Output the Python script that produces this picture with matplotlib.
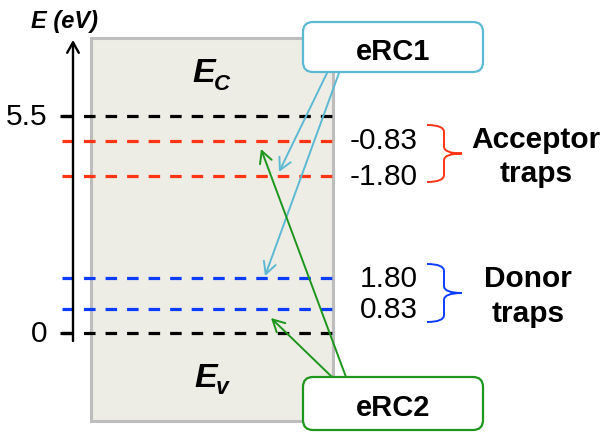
import matplotlib
matplotlib.use('Agg')
import matplotlib.pyplot as plt
from matplotlib.patches import FancyBboxPatch, Rectangle, PathPatch
from matplotlib.path import Path

plt.rcParams['font.family'] = ['Liberation Sans', 'DejaVu Sans']

# ---- data (energies in eV, schematic positions) ----
band_edges = [5.5, 0.0]
band_edge_labels = ['5.5', '0']
acceptor_levels = [4.86, 3.96]
acceptor_labels = ['-0.83', '-1.80']
donor_levels = [1.375, 0.596]
donor_labels = ['1.80', '0.83']

# ---- layout helpers (pixel -> energy) ----
W, H = 606, 434
Y0, S = 332.5, 39.42
def Y(py):
    return (Y0 - py) / S

fig = plt.figure(figsize=(6.06, 4.34), dpi=100)
ax = fig.add_axes([0, 0, 1, 1])
ax.set_xlim(0, W)
ax.set_ylim(Y(H), Y(0))
ax.axis('off')

RED = '#ff3414'
BLUE = '#0c3cff'
CYAN = '#5bb9d4'
GREEN = '#1c961c'

# band-gap box
ax.add_patch(Rectangle((91, Y(421)), 333 - 91, Y(38) - Y(421),
                       facecolor='#eeede5', edgecolor='#bdbdbd', lw=2.2, zorder=1))

# energy axis with arrow
ax.annotate('', xy=(73, Y(40)), xytext=(73, Y(341)),
            arrowprops=dict(arrowstyle='->,head_length=0.75,head_width=0.42',
                            lw=1.7, color='black', shrinkA=0, shrinkB=0,
                            mutation_scale=10), zorder=3)
ax.text(31, Y(28), 'E (eV)', fontsize=17, fontweight='bold', fontstyle='italic',
        ha='left', va='baseline')

lw = 2.3
dash = (0, (8.3 / lw, 7.2 / lw))
x0, x1 = 62, 341
for e, lab in zip(band_edges, band_edge_labels):
    ax.plot([60, 73], [e, e], color='black', lw=lw, zorder=3, solid_capstyle='butt')
    ax.plot([x0, x1], [e, e], color='black', lw=lw, ls=dash, zorder=2)
    ax.text(47, e - 9 / S, lab, fontsize=21.5, ha='right', va='baseline')

for e, lab in zip(acceptor_levels, acceptor_labels):
    ax.plot([x0, x1], [e, e], color=RED, lw=lw, ls=dash, zorder=2)
    ax.text(418, e - 8.5 / S, lab, fontsize=21.5, ha='right', va='baseline')

for e, lab in zip(donor_levels, donor_labels):
    ax.plot([x0, x1], [e, e], color=BLUE, lw=lw, ls=dash, zorder=2)
    ax.text(418, e - 8.5 / S, lab, fontsize=21.5, ha='right', va='baseline')

# E_C and E_v
ax.text(192, Y(82), 'E', fontsize=24.5, fontweight='bold', fontstyle='italic',
        ha='left', va='baseline', zorder=4)
ax.text(214, Y(90), 'C', fontsize=16, fontweight='bold', fontstyle='italic',
        ha='left', va='baseline', zorder=4)
ax.text(194, Y(387), 'E', fontsize=24.5, fontweight='bold', fontstyle='italic',
        ha='left', va='baseline', zorder=4)
ax.text(216, Y(394), 'v', fontsize=16.5, fontweight='bold', fontstyle='italic',
        ha='left', va='baseline', zorder=4)

# braces
def brace(top, bot, color):
    mid = (top + bot) / 2
    xl, xm, xt, r = 427, 444, 462, 7
    verts = [(xl, top), (xm, top), (xm, top + r),
             (xm, mid - r), (xm, mid), (xt, mid),
             (xm, mid), (xm, mid + r),
             (xm, bot - r), (xm, bot), (xl, bot)]
    codes = [Path.MOVETO, Path.CURVE3, Path.CURVE3,
             Path.LINETO, Path.CURVE3, Path.CURVE3,
             Path.CURVE3, Path.CURVE3,
             Path.LINETO, Path.CURVE3, Path.CURVE3]
    verts = [(x, Y(y)) for x, y in verts]
    ax.add_patch(PathPatch(Path(verts, codes), fill=False, edgecolor=color, lw=1.4))

brace(125, 182, RED)
brace(264, 322, BLUE)

ax.text(536, Y(148), 'Acceptor', fontsize=21.5, fontweight='bold', ha='center', va='baseline')
ax.text(536, Y(182), 'traps', fontsize=21.5, fontweight='bold', ha='center', va='baseline')
ax.text(528, Y(287), 'Donor', fontsize=21.5, fontweight='bold', ha='center', va='baseline')
ax.text(528, Y(322), 'traps', fontsize=21.5, fontweight='bold', ha='center', va='baseline')

# callout boxes
def callout(xa, xb, ya, yb, color, label, base):
    p = FancyBboxPatch((xa, Y(yb)), xb - xa, Y(ya) - Y(yb),
                       boxstyle='round,pad=0,rounding_size=10',
                       mutation_aspect=1 / S, facecolor='white', edgecolor=color,
                       lw=1.6, zorder=6)
    ax.add_patch(p)
    ax.text((xa + xb) / 2, Y(base), label, fontsize=21, fontweight='bold',
            ha='center', va='baseline', zorder=7)

callout(303, 483, 22, 72, CYAN, 'eRC1', 60)
callout(303, 483, 377, 430, GREEN, 'eRC2', 415.5)

def arrow(start, tip, color):
    ax.annotate('', xy=(tip[0], Y(tip[1])), xytext=(start[0], Y(start[1])),
                arrowprops=dict(arrowstyle='->,head_length=0.85,head_width=0.45',
                                lw=1.4, color=color, shrinkA=0, shrinkB=0,
                                mutation_scale=10), zorder=5)

arrow((327, 73), (279, 172), CYAN)
arrow((339, 73), (265, 276), CYAN)
arrow((346, 377), (261, 149), GREEN)
arrow((332, 377), (271, 318), GREEN)

fig.savefig('out.png', dpi=100)
